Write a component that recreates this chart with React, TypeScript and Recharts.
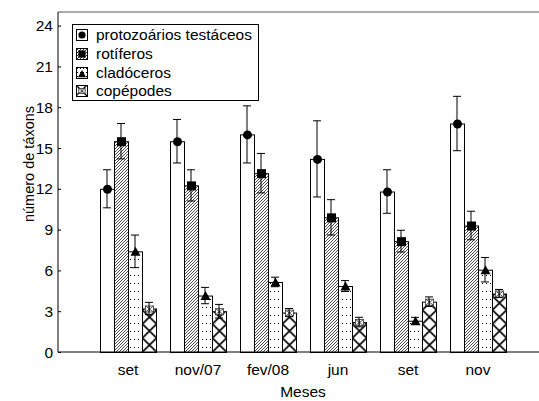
import React from 'react';
import { BarChart, Bar, XAxis, YAxis, ErrorBar, Legend, ReferenceLine } from 'recharts';

const meses = ['set', 'nov/07', 'fev/08', 'jun', 'set', 'nov'];
const seriesNames = ['protozoários testáceos', 'rotíferos', 'cladóceros', 'copépodes'];

const protozoarios = [12.0, 15.5, 16.0, 14.2, 11.8, 16.8];
const protozoariosErr = [1.4, 1.6, 2.1, 2.8, 1.6, 2.0];
const rotiferos = [15.5, 12.25, 13.15, 9.9, 8.15, 9.3];
const rotiferosErr = [1.3, 1.15, 1.45, 1.3, 0.8, 1.05];
const cladoceros = [7.4, 4.15, 5.15, 4.85, 2.3, 6.05];
const cladocerosErr = [1.2, 0.6, 0.35, 0.4, 0.25, 0.9];
const copepodes = [3.2, 3.0, 2.9, 2.2, 3.7, 4.3];
const copepodesErr = [0.45, 0.5, 0.3, 0.35, 0.35, 0.3];

const yTicks = [0, 3, 6, 9, 12, 15, 18, 21, 24];

const data = meses.map((mes, i) => ({
  mes,
  proto: protozoarios[i],
  protoErr: protozoariosErr[i],
  rot: rotiferos[i],
  rotErr: rotiferosErr[i],
  clad: cladoceros[i],
  cladErr: cladocerosErr[i],
  cop: copepodes[i],
  copErr: copepodesErr[i],
}));

const FONT = '"Liberation Sans", Arial, Helvetica, sans-serif';

type Marker = 'circle' | 'square' | 'triangle' | 'star';

function drawMarker(kind: Marker, cx: number, cy: number, s = 1) {
  switch (kind) {
    case 'circle':
      return <circle cx={cx} cy={cy} r={4.5 * s} fill="#000" />;
    case 'square':
      return <rect x={cx - 4.5 * s} y={cy - 4.5 * s} width={9 * s} height={9 * s} fill="#000" />;
    case 'triangle':
      return (
        <polygon
          points={`${cx},${cy - 5 * s} ${cx - 5 * s},${cy + 4 * s} ${cx + 5 * s},${cy + 4 * s}`}
          fill="#000"
        />
      );
    default:
      return (
        <g stroke="#333" strokeWidth={0.8} fill="#fff">
          <rect x={cx - 4 * s} y={cy - 3 * s} width={8 * s} height={6 * s} />
          <line x1={cx - 4 * s} y1={cy - 3 * s} x2={cx + 4 * s} y2={cy + 3 * s} />
          <line x1={cx + 4 * s} y1={cy - 3 * s} x2={cx - 4 * s} y2={cy + 3 * s} />
          <line x1={cx} y1={cy - 3 * s} x2={cx} y2={cy + 3 * s} />
        </g>
      );
  }
}

const makeShape = (fill: string, marker: Marker) => (props: any) => {
  const { x, y, width, height } = props;
  if (x == null || y == null) return <g />;
  return (
    <g>
      <rect x={x + 0.5} y={y + 0.5} width={width} height={height} fill={fill} stroke="#000" strokeWidth={1} />
      {drawMarker(marker, x + width / 2 + 0.5, y + 0.5)}
    </g>
  );
};

const fills = ['#fff', 'url(#hatchRot)', 'url(#dotsClad)', 'url(#crossCop)'];
const markers: Marker[] = ['circle', 'square', 'triangle', 'star'];

const YTick = (props: any) => {
  const { x, y, payload } = props;
  return (
    <g>
      <line x1={x + 5} x2={x + 8} y1={y + 0.5} y2={y + 0.5} stroke="#000" />
      <text x={x} y={y} dy="0.36em" textAnchor="end" fontSize={15.5} fontFamily={FONT} fill="#000">
        {payload.value}
      </text>
    </g>
  );
};

const renderYLabel = () => (
  <text
    x={34}
    y={164}
    transform="rotate(-90, 34, 164)"
    textAnchor="middle"
    fontSize={14.5}
    fontFamily={FONT}
    fill="#000"
  >
    número de táxons
  </text>
);

const LegendPatterns = () => (
  <defs>
    <pattern id="lgHatch" width={3} height={3} patternUnits="userSpaceOnUse">
      <path d="M0,3 L3,0 M-1,1 L1,-1 M2,4 L4,2" stroke="#000" strokeWidth={0.8} />
    </pattern>
    <pattern id="lgDots" width={3} height={4} patternUnits="userSpaceOnUse">
      <rect x={1} y={1} width={1} height={1} fill="#000" />
    </pattern>
    <pattern id="lgCross" width={11} height={11} patternUnits="userSpaceOnUse">
      <path d="M0,0 L11,11 M11,0 L0,11" stroke="#000" strokeWidth={1.3} />
    </pattern>
  </defs>
);

const legendFills = ['#fff', 'url(#lgHatch)', 'url(#lgDots)', 'url(#lgCross)'];

const renderLegend = () => (
  <div
    style={{
      border: '1px solid #000',
      background: '#fff',
      width: 182,
      height: 74,
      padding: '1px 0 0 3px',
      fontFamily: FONT,
      fontSize: 15.5,
      color: '#000',
    }}
  >
    {seriesNames.map((name, i) => (
      <div key={name} style={{ display: 'flex', alignItems: 'center', height: 18.7, whiteSpace: 'nowrap' }}>
        <svg width={12} height={12} style={{ marginRight: 8, flex: 'none' }}>
          {i === 0 && <LegendPatterns />}
          <rect x={0.5} y={0.5} width={11} height={11} fill={legendFills[i]} stroke="#000" />
          {drawMarker(markers[i], 6, i === 2 ? 7 : 6, 0.8)}
        </svg>
        <span>{name}</span>
      </div>
    ))}
  </div>
);

export default function App() {
  return (
    <div
      style={{
        position: 'absolute',
        left: 0,
        top: 0,
        width: 539,
        height: 401,
        overflow: 'hidden',
        background: '#fff',
        fontFamily: FONT,
      }}
    >
      <BarChart
        width={560}
        height={401}
        data={data}
        margin={{ top: 12, right: 12, bottom: 0, left: 0 }}
        barSize={14}
        barGap={0}
      >
        <defs>
          <pattern id="hatchRot" width={3} height={3} patternUnits="userSpaceOnUse">
            <path d="M0,3 L3,0 M-1,1 L1,-1 M2,4 L4,2" stroke="#000" strokeWidth={0.7} />
          </pattern>
          <pattern id="dotsClad" x={1} y={0} width={4} height={8} patternUnits="userSpaceOnUse">
            <rect x={1} y={3} width={1} height={1} fill="#000" />
          </pattern>
          <pattern id="crossCop" x={2.5} y={2} width={14} height={14} patternUnits="userSpaceOnUse">
            <path d="M0,0 L14,14 M14,0 L0,14" stroke="#000" strokeWidth={1.6} />
          </pattern>
        </defs>
        <ReferenceLine y={25} stroke="#555" strokeWidth={1} />
        <XAxis
          dataKey="mes"
          padding={{ left: 35, right: 35 }}
          tickLine={false}
          tickSize={0}
          tickMargin={12}
          height={49}
          axisLine={{ stroke: '#000' }}
          tick={{ fill: '#000', fontSize: 15.5, fontFamily: FONT }}
          interval={0}
          label={{ value: 'Meses', position: 'insideBottom', offset: 4, fill: '#000', fontSize: 15.5, fontFamily: FONT }}
        />
        <YAxis
          domain={[0, 25]}
          ticks={yTicks}
          width={58}
          tickSize={0}
          tickMargin={5}
          tickLine={false}
          axisLine={{ stroke: '#000' }}
          tick={<YTick />}
          label={renderYLabel}
        />
        <Legend
          layout="vertical"
          align="center"
          verticalAlign="middle"
          content={renderLegend}
          wrapperStyle={{ left: 72, top: 24, width: 'auto', height: 'auto' }}
        />
        <Bar dataKey="proto" name={seriesNames[0]} fill={fills[0]} shape={makeShape(fills[0], markers[0])} isAnimationActive={false}>
          <ErrorBar dataKey="protoErr" width={4} stroke="#000" strokeWidth={1} />
        </Bar>
        <Bar dataKey="rot" name={seriesNames[1]} fill={fills[1]} shape={makeShape(fills[1], markers[1])} isAnimationActive={false}>
          <ErrorBar dataKey="rotErr" width={4} stroke="#000" strokeWidth={1} />
        </Bar>
        <Bar dataKey="clad" name={seriesNames[2]} fill={fills[2]} shape={makeShape(fills[2], markers[2])} isAnimationActive={false}>
          <ErrorBar dataKey="cladErr" width={4} stroke="#000" strokeWidth={1} />
        </Bar>
        <Bar dataKey="cop" name={seriesNames[3]} fill={fills[3]} shape={makeShape(fills[3], markers[3])} isAnimationActive={false}>
          <ErrorBar dataKey="copErr" width={4} stroke="#000" strokeWidth={1} />
        </Bar>
      </BarChart>
    </div>
  );
}
